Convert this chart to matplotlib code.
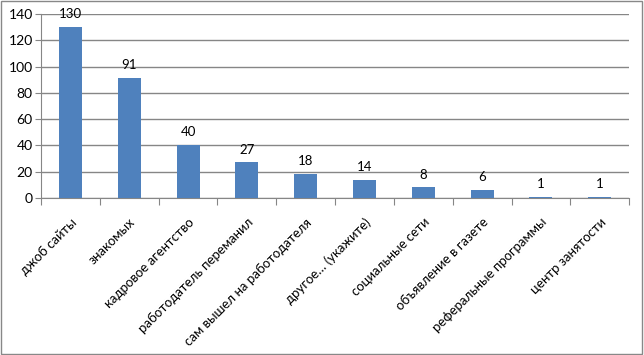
import matplotlib.pyplot as plt
from matplotlib.patches import Rectangle

plt.rcParams['font.family'] = ['Lato', 'DejaVu Sans']

categories = [
    "джоб сайты",
    "знакомых",
    "кадровое агентство",
    "работодатель переманил",
    "сам вышел на работодателя",
    "другое… (укажите)",
    "социальные сети",
    "объявление в газете",
    "реферальные программы",
    "центр занятости",
]
counts = [130, 91, 40, 27, 18, 14, 8, 6, 1, 1]
y_ticks = [0, 20, 40, 60, 80, 100, 120, 140]

BAR_COLOUR = "#4F81BD"
GRID_COLOUR = "#868686"

fig = plt.figure(figsize=(6.44, 3.55), dpi=100)
ax = fig.add_axes([0.0637, 0.4423, 0.977 - 0.0637, 0.9606 - 0.4423])

x = range(len(categories))
ax.bar(x, counts, width=0.39, color=BAR_COLOUR, zorder=3)
for xi, v in zip(x, counts):
    ax.annotate(str(v), xy=(xi, v), xytext=(0, 5), textcoords="offset points",
                ha="center", va="bottom", fontsize=9.5, color="black")

ax.set_ylim(0, 140)
ax.set_xlim(-0.5, len(categories) - 0.5)
ax.set_yticks(y_ticks)
ax.yaxis.grid(True, color=GRID_COLOUR, lw=1)
ax.set_axisbelow(True)
ax.tick_params(axis="y", length=4, color=GRID_COLOUR, labelsize=10, pad=2)

# category ticks between bars
ax.set_xticks([i - 0.5 for i in range(len(categories) + 1)])
ax.set_xticklabels([])
ax.tick_params(axis="x", length=5, direction="out", color=GRID_COLOUR)
for xi, lab in zip(x, categories):
    ax.annotate(lab, xy=(xi, 0), xycoords=("data", "axes fraction"),
                xytext=(3, -16), textcoords="offset points",
                rotation=45, ha="right", va="center", rotation_mode="anchor",
                fontsize=9.5)

for side in ("top", "right"):
    ax.spines[side].set_visible(False)
for side in ("left", "bottom"):
    ax.spines[side].set_color(GRID_COLOUR)

fig.patches.append(Rectangle((0.002, 0.003), 0.995, 0.993, transform=fig.transFigure,
                             fill=False, edgecolor="#888888", lw=1))

fig.savefig("out.png", dpi=100)
